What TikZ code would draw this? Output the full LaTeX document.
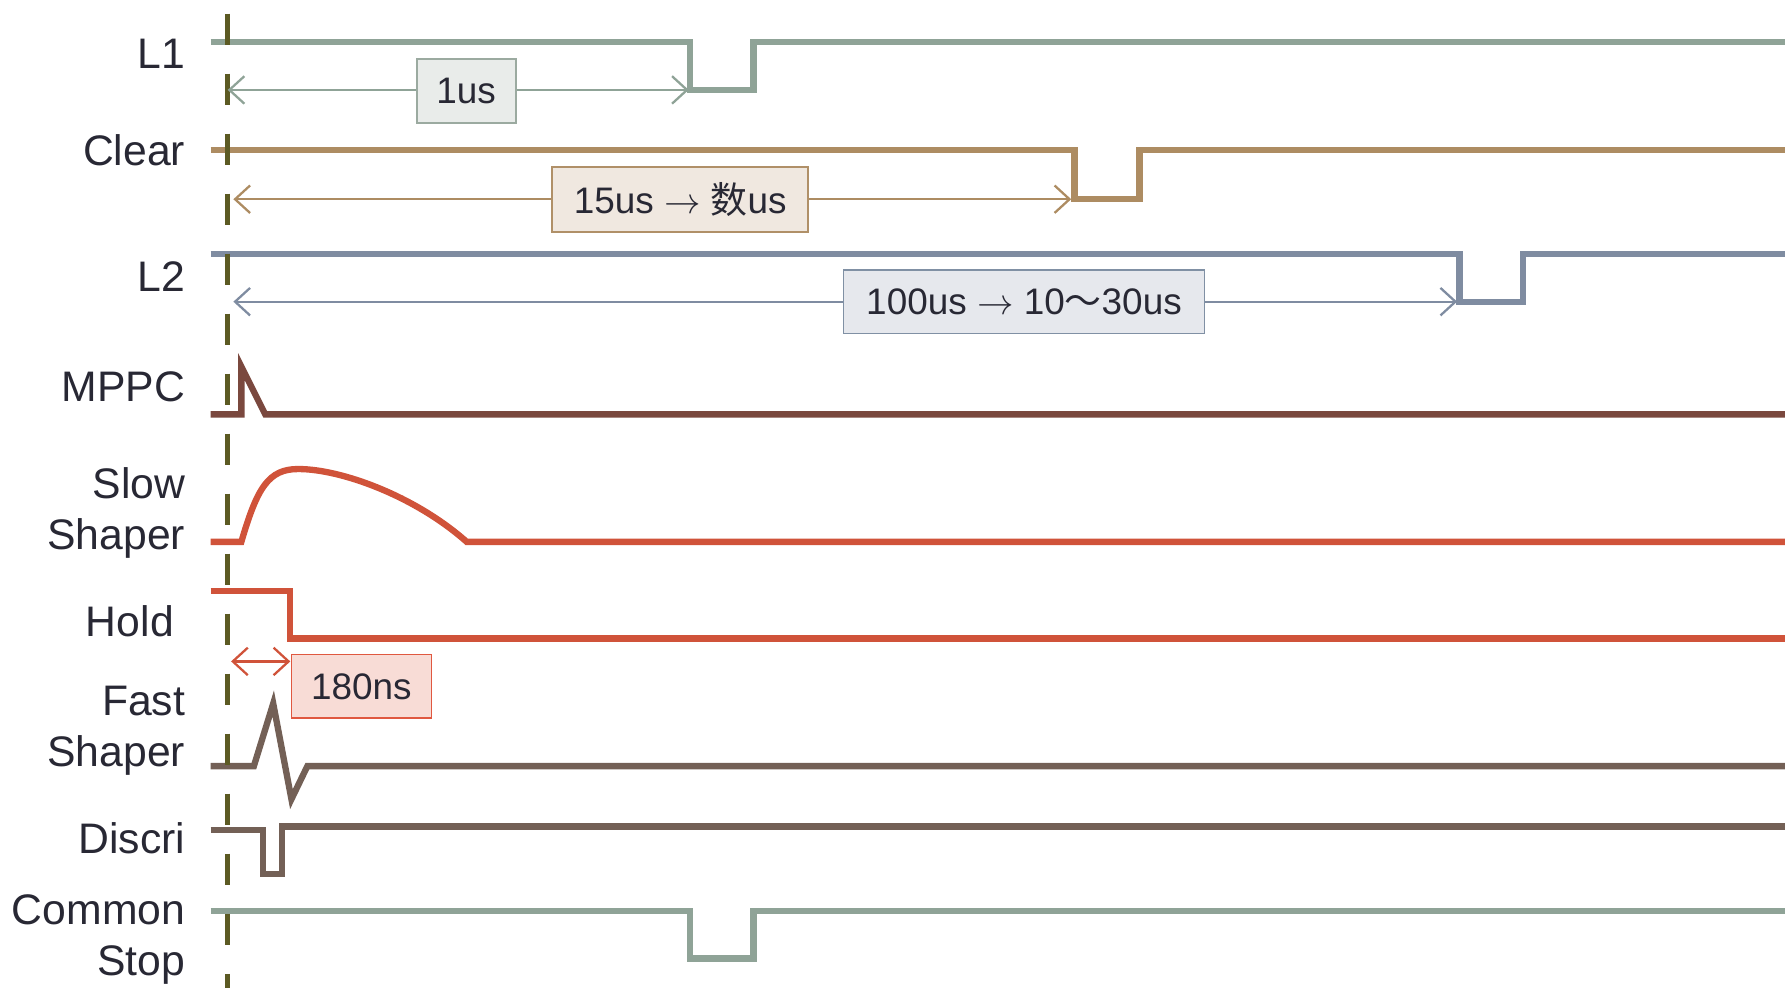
\documentclass[tikz,border=0pt]{standalone}
\usepackage{fontspec}
\setmainfont{Liberation Sans}
\newfontfamily\cjk{Noto Sans CJK SC}
\usetikzlibrary{arrows.meta}
\definecolor{cLone}{RGB}{143,163,151}
\definecolor{cClear}{RGB}{173,140,98}
\definecolor{cLtwo}{RGB}{127,140,161}
\definecolor{cMPPC}{RGB}{122,72,62}
\definecolor{cSlow}{RGB}{208,83,58}
\definecolor{cFast}{RGB}{115,96,86}
\definecolor{cDash}{RGB}{92,90,35}
\definecolor{cText}{RGB}{40,40,52}
\definecolor{fLone}{RGB}{233,236,234}
\definecolor{bLone}{RGB}{155,170,160}
\definecolor{fClear}{RGB}{240,232,224}
\definecolor{bClear}{RGB}{176,144,104}
\definecolor{fLtwo}{RGB}{230,232,237}
\definecolor{bLtwo}{RGB}{128,144,164}
\definecolor{fHold}{RGB}{248,220,214}
\definecolor{bHold}{RGB}{224,88,64}
\tikzset{
  sig/.style={line width=3.6pt, line join=miter, line cap=butt},
  lbl/.style={anchor=east, align=right, text=cText, inner sep=0pt,
    font=\fontsize{24.3}{29}\selectfont},
  dimline/.style={line width=1.3pt, {Straight Barb[length=0.3cm,width=0.55cm]}-{Straight Barb[length=0.3cm,width=0.55cm]}},
  dimbox/.style={draw, line width=1pt, text=cText, inner sep=0pt,
    font=\fontsize{21}{25}\selectfont},
}
\begin{document}
\begin{tikzpicture}[x=0.022768cm, y=-0.022768cm]
\useasboundingbox (0,0) rectangle (1568,868);

% labels
\node[lbl] (lL1) at (163,47) {L1};
\node[lbl] (lClear) at (163,132) {Clear};
\node[lbl] (lL2) at (163,243) {L2};
\node[lbl] (lMPPC) at (163,340) {MPPC};
\node[lbl] (lSlow) at (163,451) {Slow\\Shaper};
\node[lbl] (lHold) at (153,546) {Hold};
\node[lbl] (lFast) at (163,642) {Fast\\Shaper};
\node[lbl] (lDiscri) at (163,736) {Discri};
\node[lbl] (lCommon) at (163,825) {Common\\Stop};

% signals
\draw[sig, cLone] (185,37) -- (606,37) -- (606,79) -- (662,79) -- (662,37) -- (1568,37);
\draw[sig, cClear] (185,132) -- (944,132) -- (944,175) -- (1001,175) -- (1001,132) -- (1568,132);
\draw[sig, cLtwo] (185,223) -- (1282,223) -- (1282,265) -- (1338,265) -- (1338,223) -- (1568,223);
\draw[sig, cMPPC] (185,364) -- (212,364) -- (212,322) -- (233,364) -- (1568,364);
\draw[sig, cSlow] (185,476) -- (212,476) .. controls (226,428) and (236,412) .. (262,412)
  .. controls (300,412) and (365,436) .. (410,476) -- (1568,476);
\draw[sig, cSlow] (185,519) -- (255,519) -- (255,561) -- (1568,561);
\draw[sig, cFast] (185,673) -- (223,673) -- (240,618) -- (256,702) -- (270,673) -- (1568,673);
\draw[sig, cFast] (185,729) -- (231,729) -- (231,768) -- (248,768) -- (248,726) -- (1568,726);
\draw[sig, cLone] (185,800) -- (606,800) -- (606,842) -- (662,842) -- (662,800) -- (1568,800);

% reference dashed line
\coordinate (dtop) at (200,12);
\coordinate (dbot) at (200,868);
\draw[cDash, line width=2.6pt, dash pattern=on 0.62cm off 0.58cm] (dtop) -- (dbot);

% dimension arrows
\coordinate (a1l) at (200,79);  \coordinate (a1r) at (605,79);
\coordinate (a2l) at (205,175); \coordinate (a2r) at (941,175);
\coordinate (a3l) at (205,265); \coordinate (a3r) at (1280,265);
\coordinate (a4l) at (203,581); \coordinate (a4r) at (255,581);
\draw[dimline, cLone] (a1l) -- (a1r);
\draw[dimline, cClear] (a2l) -- (a2r);
\draw[dimline, cLtwo] (a3l) -- (a3r);
\draw[dimline, cSlow] (a4l) -- (a4r);

% boxes
\node[dimbox, draw=bLone, fill=fLone, minimum width=1.98cm, minimum height=1.275cm] (b1) at (409.5,80) {1us};
\node[dimbox, draw=bClear, fill=fClear, minimum width=5.12cm, minimum height=1.30cm] (b2) at (597.5,175.5) {15us $\rightarrow$ {\cjk 数}us};
\node[dimbox, draw=bLtwo, fill=fLtwo, minimum width=7.22cm, minimum height=1.275cm] (b3) at (899.5,265) {100us $\rightarrow$ 10{\cjk 〜}30us};
\node[dimbox, draw=bHold, fill=fHold, minimum width=2.80cm, minimum height=1.275cm] (b4) at (317.5,603) {180ns};
\end{tikzpicture}
\end{document}
